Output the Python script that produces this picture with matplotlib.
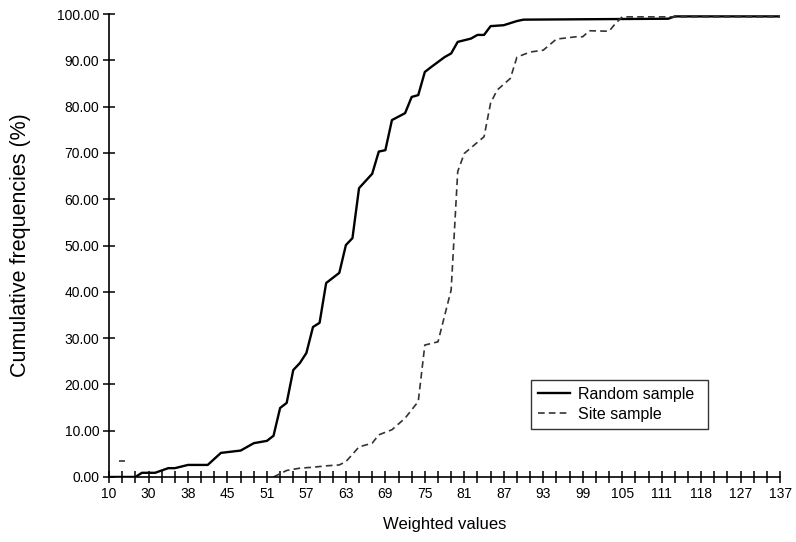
import matplotlib
matplotlib.use("Agg")
import matplotlib.pyplot as plt
from matplotlib.ticker import FuncFormatter, MultipleLocator

plt.rcParams["font.family"] = ["Liberation Sans", "DejaVu Sans"]

# x axis is categorical: one slot per observed weighted value, labelled every 6th
n_categories = 103
xtick_labels = [10, 30, 38, 45, 51, 57, 63, 69, 75, 81, 87, 93, 99, 105, 111, 118, 127, 137]

# cumulative frequencies (%), at category index
random_idx = [0, 4, 5, 7, 9, 10, 12, 15, 17, 20, 22, 24, 25, 26, 27, 28, 29, 30, 31, 32,
              33, 35, 36, 37, 38, 40, 41, 42, 43, 45, 46, 47, 48, 49, 51, 52, 53, 55, 56,
              57, 58, 60, 62, 63, 85, 86, 102]
random_pct = [0.0, 0.0, 0.9, 0.9, 1.9, 1.9, 2.6, 2.6, 5.2, 5.7, 7.3, 7.8, 8.9, 14.9, 16.0,
              23.1, 24.6, 26.8, 32.4, 33.3, 41.9, 44.1, 50.1, 51.6, 62.4, 65.5, 70.3, 70.6,
              77.1, 78.6, 82.1, 82.5, 87.5, 88.6, 90.7, 91.5, 94.0, 94.7, 95.5, 95.5, 97.4,
              97.6, 98.5, 98.8, 99.0, 99.5, 99.5]

site_idx = [25, 27, 29, 31, 33, 35, 36, 38, 40, 41, 43, 45, 47, 48, 50, 52, 53, 54, 57,
            58, 59, 61, 62, 64, 66, 68, 71, 72, 73, 76, 77, 78, 102]
site_pct = [0.0, 1.4, 1.9, 2.1, 2.4, 2.6, 3.3, 6.5, 7.3, 9.1, 10.2, 12.7, 16.3, 28.5,
            29.2, 40.4, 66.0, 69.9, 73.5, 80.8, 83.6, 86.1, 90.7, 91.8, 92.2, 94.6, 95.1,
            95.1, 96.4, 96.3, 98.0, 99.4, 99.4]

# lone site-sample value near the start of the axis
site_lone_idx = [2]
site_lone_pct = [3.5]

fig = plt.figure(figsize=(7.96, 5.42), dpi=100)
ax = fig.add_axes([0.137, 0.12, 0.843, 0.854])

ax.plot(random_idx, random_pct, color="black", lw=1.7, label="Random sample")
ax.plot(site_idx, site_pct, color="#333333", lw=1.2, ls=(0, (4, 2.5)), label="Site sample")
ax.plot(site_lone_idx, site_lone_pct, color="#333333", marker="_", ms=4, mew=1.2, ls="none")

ax.set_xlim(0, n_categories - 1)
ax.set_ylim(0, 100)

ax.xaxis.set_minor_locator(MultipleLocator(2))
ax.set_xticks(range(0, n_categories, 6))
ax.set_xticklabels([str(v) for v in xtick_labels])
ax.yaxis.set_major_locator(MultipleLocator(10))
ax.yaxis.set_major_formatter(FuncFormatter(lambda v, p: f"{v:.2f}"))

for side in ("top", "right"):
    ax.spines[side].set_visible(False)
for side in ("left", "bottom"):
    ax.spines[side].set_linewidth(1.2)

ax.tick_params(axis="both", which="both", direction="inout", length=8, width=1.1,
               labelsize=10, colors="black")
ax.tick_params(axis="x", pad=3)
ax.tick_params(axis="y", pad=3)

ax.set_xlabel("Weighted values", fontsize=12, labelpad=12)
ax.set_ylabel("Cumulative frequencies (%)", fontsize=15.5, labelpad=19)

leg = ax.legend(loc="lower left", bbox_to_anchor=(0.629, 0.104, 0.264, 0.108),
                mode="expand", fontsize=11.5, frameon=True, fancybox=False,
                handlelength=2.0, handletextpad=0.5, borderaxespad=0,
                borderpad=0.45, labelspacing=0.3)
leg.get_frame().set_edgecolor("black")
leg.get_frame().set_linewidth(1.0)

fig.savefig("out.png", dpi=100)
